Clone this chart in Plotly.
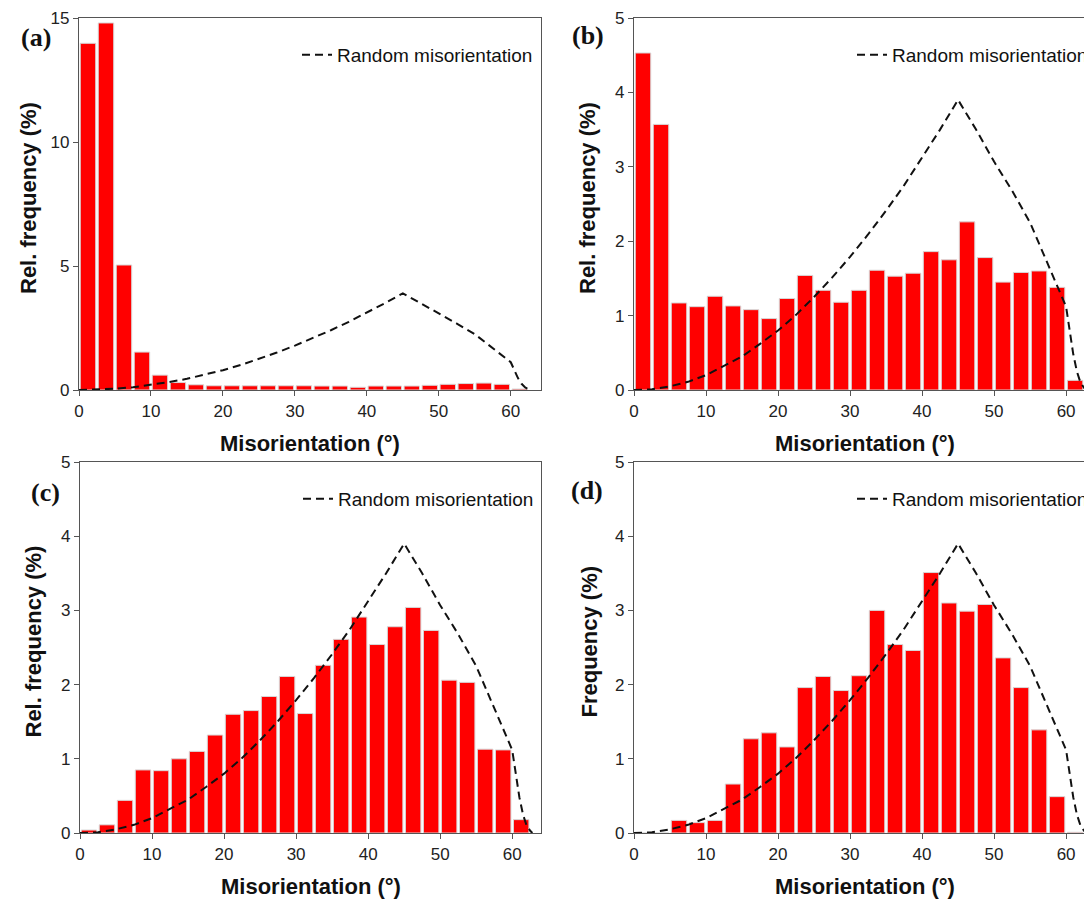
import plotly.graph_objects as go

# ---------------- data ----------------
bin_centers = [1.25, 3.75, 6.25, 8.75, 11.25, 13.75, 16.25, 18.75, 21.25, 23.75,
               26.25, 28.75, 31.25, 33.75, 36.25, 38.75, 41.25, 43.75, 46.25, 48.75,
               51.25, 53.75, 56.25, 58.75, 61.25]

freq_a = [13.98, 14.8, 5.04, 1.53, 0.60, 0.30, 0.21, 0.17, 0.17, 0.17,
          0.17, 0.17, 0.17, 0.16, 0.16, 0.11, 0.16, 0.16, 0.16, 0.19,
          0.23, 0.26, 0.28, 0.23, 0.04]

freq_b = [4.53, 3.57, 1.17, 1.12, 1.26, 1.13, 1.08, 0.96, 1.23, 1.54,
          1.34, 1.18, 1.34, 1.61, 1.53, 1.57, 1.86, 1.75, 2.26, 1.78,
          1.45, 1.58, 1.60, 1.38, 0.13]

freq_c = [0.04, 0.11, 0.44, 0.85, 0.84, 1.00, 1.10, 1.32, 1.60, 1.65,
          1.84, 2.11, 1.61, 2.26, 2.61, 2.91, 2.54, 2.78, 3.04, 2.73,
          2.06, 2.03, 1.13, 1.12, 0.18]

freq_d = [0.0, 0.0, 0.17, 0.14, 0.17, 0.66, 1.27, 1.35, 1.16, 1.96,
          2.11, 1.92, 2.12, 3.00, 2.54, 2.46, 3.51, 3.10, 2.99, 3.08,
          2.36, 1.96, 1.39, 0.49, 0.01]

random_x = [0, 2.5, 5, 7.5, 10, 12.5, 15, 17.5, 20, 22.5, 25, 27.5, 30, 32.5,
            35, 37.5, 40, 42.5, 45, 47.5, 50, 52.5, 55, 57.5, 60, 60.5, 61,
            61.5, 62, 62.5, 62.8]
random_y = [0.0, 0.01, 0.05, 0.11, 0.20, 0.32, 0.45, 0.62, 0.80, 1.01, 1.25,
            1.51, 1.79, 2.09, 2.41, 2.75, 3.12, 3.50, 3.90, 3.50, 3.07, 2.68,
            2.25, 1.68, 1.12, 0.80, 0.48, 0.25, 0.10, 0.03, 0.0]

panel_labels = ["(a)", "(b)", "(c)", "(d)"]
y_titles = ["Rel. frequency (%)", "Rel. frequency (%)", "Rel. frequency (%)", "Frequency (%)"]
x_title = "Misorientation (°)"
legend_text = "Random misorientation"

# ---------------- layout geometry ----------------
# The page body has an 8px margin, so the figure starts at (8, 8) in the window.
OFF = 8
W, H = 1092 - OFF, 900 - OFF
def px_x(v):
    return (v - OFF) / W
def px_y(v):
    return 1 - (v - OFF) / H

panels = [
    dict(data=freq_a, x0=79, x1=541, y0=18, y1=390, xr=[0, 64.2], yr=[0, 15], dt=5,
         mirror_right=True, ytx=28, lab=(36, 37)),
    dict(data=freq_b, x0=634, x1=1092, y0=18, y1=390, xr=[0, 63.6], yr=[0, 5], dt=1,
         mirror_right=False, ytx=587, lab=(588, 35)),
    dict(data=freq_c, x0=80, x1=541, y0=462, y1=833, xr=[0, 64.0], yr=[0, 5], dt=1,
         mirror_right=True, ytx=33, lab=(45, 492)),
    dict(data=freq_d, x0=634, x1=1092, y0=462, y1=833, xr=[0, 63.6], yr=[0, 5], dt=1,
         mirror_right=False, ytx=589, lab=(587, 490)),
]

fig = go.Figure()
axis_color = "#555555"
tick_font = dict(family="Liberation Sans, Arial, sans-serif", size=17, color="#222222")
title_font = dict(family="Liberation Sans, Arial, sans-serif", size=22, color="#111111")
label_font = dict(family="Liberation Serif, Times New Roman, serif", size=26, color="#111111")

legend_names = ["legend", "legend2", "legend3", "legend4"]
annotations = []
layout = {}

for i, p in enumerate(panels):
    n = "" if i == 0 else str(i + 1)
    xa = "x" + n
    ya = "y" + n
    fig.add_trace(go.Bar(
        x=bin_centers, y=p["data"], xaxis=xa, yaxis=ya,
        marker=dict(color="#FF0000", line=dict(color="#d8d8d8", width=1)),
        showlegend=False,
    ))
    fig.add_trace(go.Scatter(
        x=random_x, y=random_y, xaxis=xa, yaxis=ya, mode="lines",
        line=dict(color="#111111", width=2, dash="8px,5px"),
        name=legend_text, legend=legend_names[i], showlegend=True,
    ))
    layout["xaxis" + n] = dict(
        domain=[px_x(p["x0"]), px_x(p["x1"])], anchor=ya, range=p["xr"],
        tickmode="linear", tick0=0, dtick=10, ticks="outside", ticklen=5,
        tickcolor=axis_color, tickwidth=1.3, showline=True, linecolor=axis_color,
        linewidth=1.3, mirror=True, showgrid=False, zeroline=False,
        tickfont=tick_font, fixedrange=True,
    )
    layout["yaxis" + n] = dict(
        domain=[px_y(p["y1"]), px_y(p["y0"])], anchor=xa, range=p["yr"],
        tickmode="linear", tick0=0, dtick=p["dt"], ticks="outside", ticklen=5,
        tickcolor=axis_color, tickwidth=1.3, showline=True, linecolor=axis_color,
        linewidth=1.3, mirror=p["mirror_right"], showgrid=False, zeroline=False,
        tickfont=tick_font, fixedrange=True,
    )
    # legend placement
    lx = p["x0"] + 218
    ly = p["y0"] + 37
    layout[legend_names[i]] = dict(
        x=px_x(lx), y=px_y(ly), xanchor="left", yanchor="middle",
        bgcolor="rgba(0,0,0,0)", borderwidth=0,
        font=dict(family="Liberation Sans, Arial, sans-serif", size=19, color="#111111"),
    )
    # x-axis title
    cx = p["x0"] + 231
    annotations.append(dict(
        text="<b>" + x_title + "</b>", x=px_x(cx), y=px_y(p["y1"] + 53),
        xref="paper", yref="paper", showarrow=False, xanchor="center", yanchor="middle",
        font=title_font,
    ))
    # y-axis title
    annotations.append(dict(
        text="<b>" + y_titles[i] + "</b>", x=px_x(p["ytx"]), y=px_y((p["y0"] + p["y1"]) / 2 - 6),
        xref="paper", yref="paper", showarrow=False, xanchor="center", yanchor="middle",
        textangle=-90, font=title_font,
    ))
    # panel label
    annotations.append(dict(
        text="<b>" + panel_labels[i] + "</b>", x=px_x(p["lab"][0]), y=px_y(p["lab"][1]),
        xref="paper", yref="paper", showarrow=False, xanchor="center", yanchor="middle",
        font=label_font,
    ))

fig.update_layout(
    width=W, height=H, margin=dict(l=0, r=0, t=0, b=0, autoexpand=False),
    paper_bgcolor="white", plot_bgcolor="white",
    bargap=0.14, annotations=annotations, **layout,
)

fig.write_html("out.html")
